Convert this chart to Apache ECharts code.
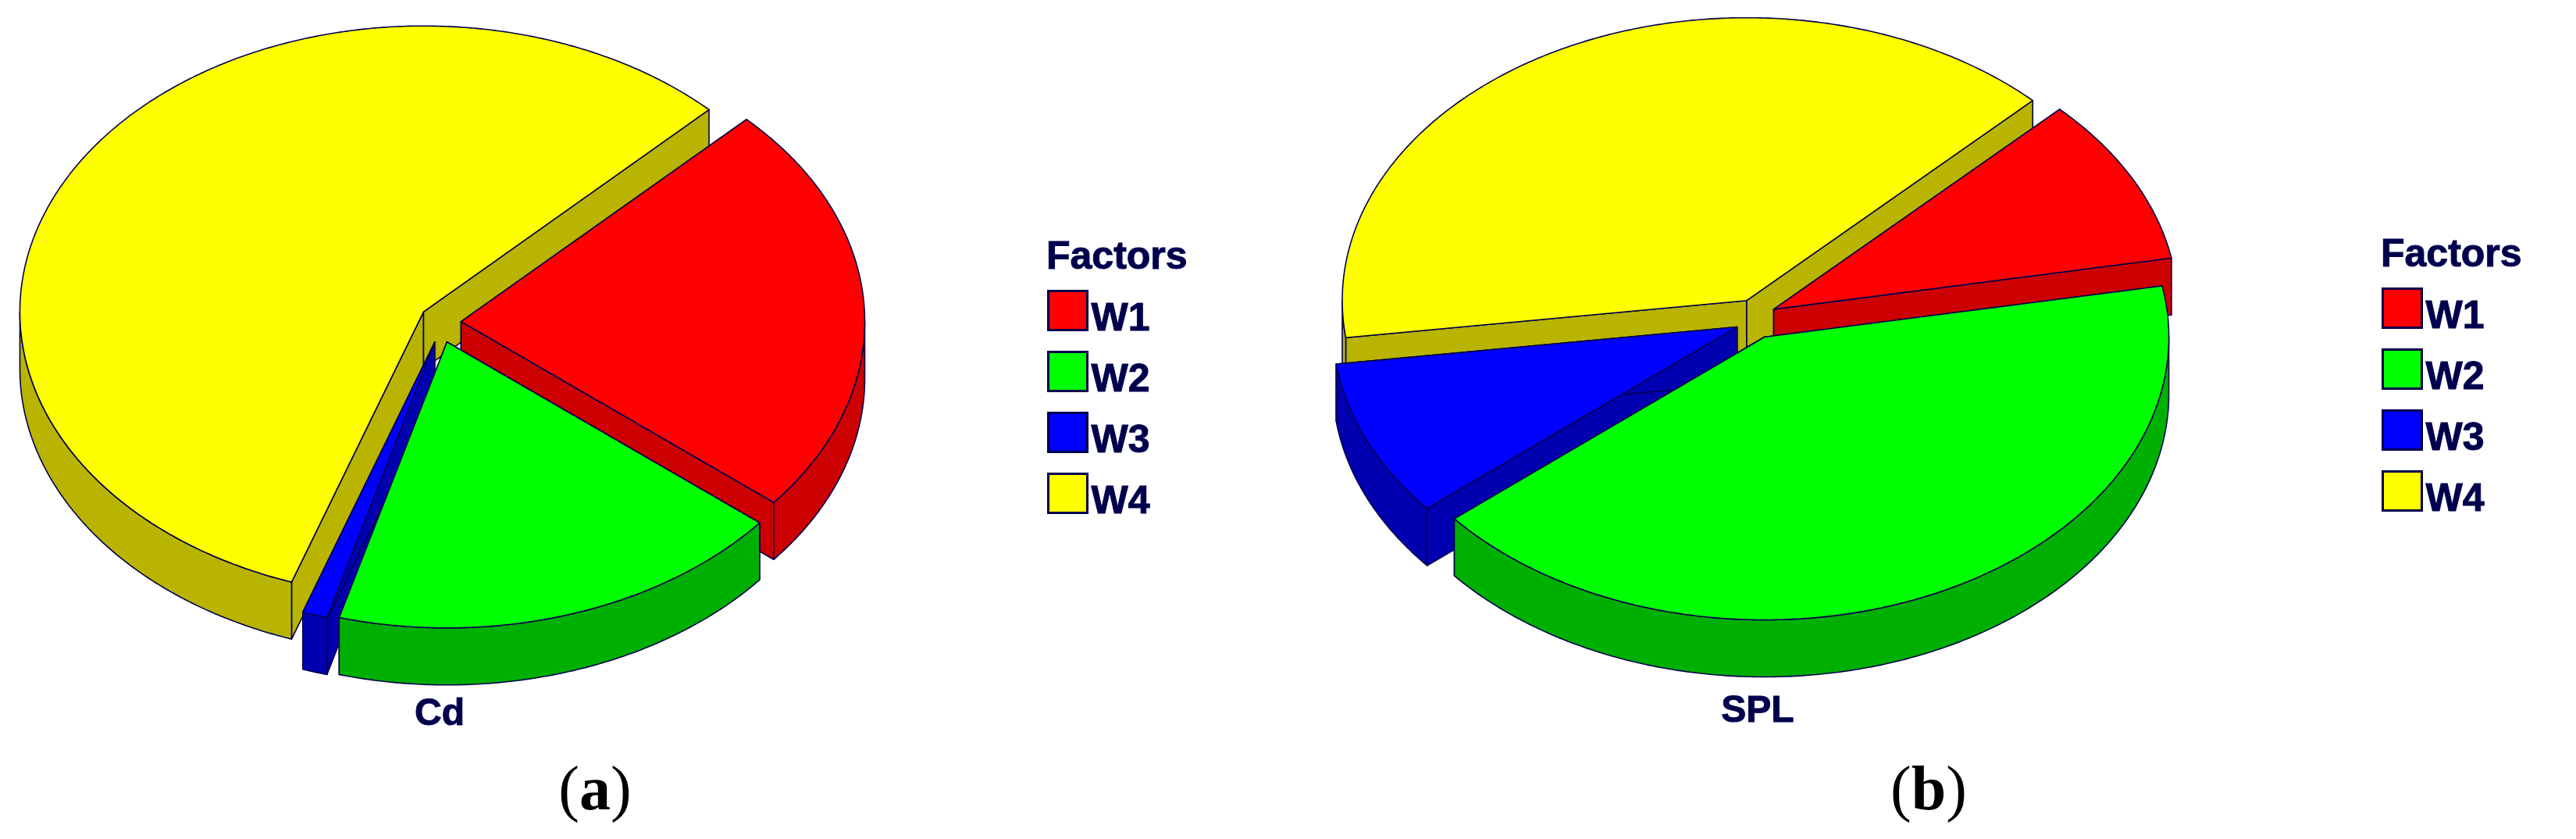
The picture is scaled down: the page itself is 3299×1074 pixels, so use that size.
<!DOCTYPE html>
<html>
<head>
<meta charset="utf-8">
<style>
  html, body { margin: 0; padding: 0; background: #fff; }
  #main { width: 3299px; height: 1074px; }
</style>
<script src="https://cdn.jsdelivr.net/npm/echarts@6/dist/echarts.min.js"></script>
</head>
<body>
<div id="main"></div>
<script>
const factors = ['W1', 'W2', 'W3', 'W4']
const cdValues = [23.4, 18.4, 1.0, 57.2]
const splValues = [9.6, 41.8, 9.0, 39.6]

const topColors = ['#ff0000', '#00ff00', '#0000ff', '#ffff00']
const sideColors = ['#cc0000', '#00b000', '#0000b0', '#b8b400']
const ink = '#00004d'

// drawn back to front
const drawOrder = [3, 0, 2, 1]
const startAngle = 45
const depth = 73
const explode = 26

function down(p) {
  return [p[0], p[1] + depth]
}

function sliceSeries(values, i, pie) {
  const total = values.reduce((s, v) => s + v, 0)
  let from = startAngle
  for (let k = 0; k < i; k++) from += values[k] / total * 360
  const to = from + values[i] / total * 360
  const mid = (from + to) / 2 * Math.PI / 180
  // the offset of an exploded slice is not foreshortened in the original
  const ox = pie.cx + explode * Math.sin(mid)
  const oy = pie.cy - explode * Math.cos(mid)

  const point = deg => {
    const a = deg * Math.PI / 180
    return [ox + pie.rx * Math.sin(a), oy - pie.ry * Math.cos(a)]
  }
  const arcBetween = (a, b) => {
    const pts = []
    for (let d = a; d < b; d += 0.5) pts.push(point(d))
    pts.push(point(b))
    return pts
  }

  const arc = arcBetween(from, to)
  const apex = [ox, oy]
  const first = arc[0]
  const last = arc[arc.length - 1]

  // only the front half of the rim has a wall you can see
  const front = []
  ;[[90, 270], [450, 630]].forEach(r => {
    const a = Math.max(from, r[0])
    const b = Math.min(to, r[1])
    if (a < b) front.push(arcBetween(a, b))
  })

  const face = (pts, fill) => ({
    type: 'polygon',
    shape: { points: pts },
    style: { fill, stroke: ink, lineWidth: 1.6, lineJoin: 'round' }
  })

  return {
    name: factors[i],
    type: 'custom',
    coordinateSystem: 'none',
    itemStyle: { color: topColors[i] },
    data: [values[i]],
    silent: true,
    renderItem() {
      return {
        type: 'group',
        children: [
          face([apex, first, down(first), down(apex)], sideColors[i]),
          face([apex, last, down(last), down(apex)], sideColors[i])
        ].concat(front.map(pts => face(pts.concat(pts.map(down).reverse()), sideColors[i])))
          .concat([face([apex].concat(arc), topColors[i])])
      }
    }
  }
}

function legend(left, top) {
  return {
    left,
    top,
    padding: 0,
    orient: 'vertical',
    data: factors,
    icon: 'rect',
    itemWidth: 50,
    itemHeight: 50,
    itemGap: 14,
    selectedMode: false,
    itemStyle: { borderColor: ink, borderWidth: 3 },
    formatter: name => '{t|' + name + '}',
    textStyle: {
      rich: {
        t: {
          color: ink,
          fontFamily: 'Liberation Sans',
          fontWeight: 'bold',
          fontSize: 50,
          textBorderColor: ink,
          textBorderWidth: 1,
          padding: [24, 0, 0, 0]
        }
      }
    }
  }
}

function label(text, x, y, size, align) {
  return {
    text,
    left: x,
    top: y,
    padding: 0,
    textAlign: align,
    textStyle: {
      color: ink,
      fontFamily: 'Liberation Sans',
      fontWeight: 'bold',
      fontSize: size,
      textBorderColor: ink,
      textBorderWidth: 1
    }
  }
}

function panelLabel(letter, x) {
  return {
    text: '{p|(}{b|' + letter + '}{p|)}',
    left: x,
    top: 970,
    textAlign: 'center',
    textStyle: {
      rich: {
        p: { fontFamily: 'Liberation Serif', fontSize: 80, fontWeight: 'normal', color: '#000' },
        b: { fontFamily: 'Liberation Serif', fontSize: 80, fontWeight: 'bold', color: '#000' }
      }
    }
  }
}

const cdPie = { cx: 564.5, cy: 413, rx: 517, ry: 366 }
const splPie = { cx: 2248.5, cy: 408, rx: 518, ry: 362 }

const chart = echarts.init(document.getElementById('main'))
chart.setOption({
  animation: false,
  backgroundColor: '#fff',
  title: [
    label('Cd', 563, 891, 48, 'center'),
    label('SPL', 2251, 887, 48, 'center'),
    label('Factors', 1340, 305, 50, 'left'),
    label('Factors', 3049, 302, 50, 'left'),
    panelLabel('a', 757),
    panelLabel('b', 2465)
  ],
  legend: [legend(1341, 371), legend(3050, 368)],
  series: drawOrder.map(i => sliceSeries(cdValues, i, cdPie))
    .concat(drawOrder.map(i => sliceSeries(splValues, i, splPie)))
})
</script>
</body>
</html>
